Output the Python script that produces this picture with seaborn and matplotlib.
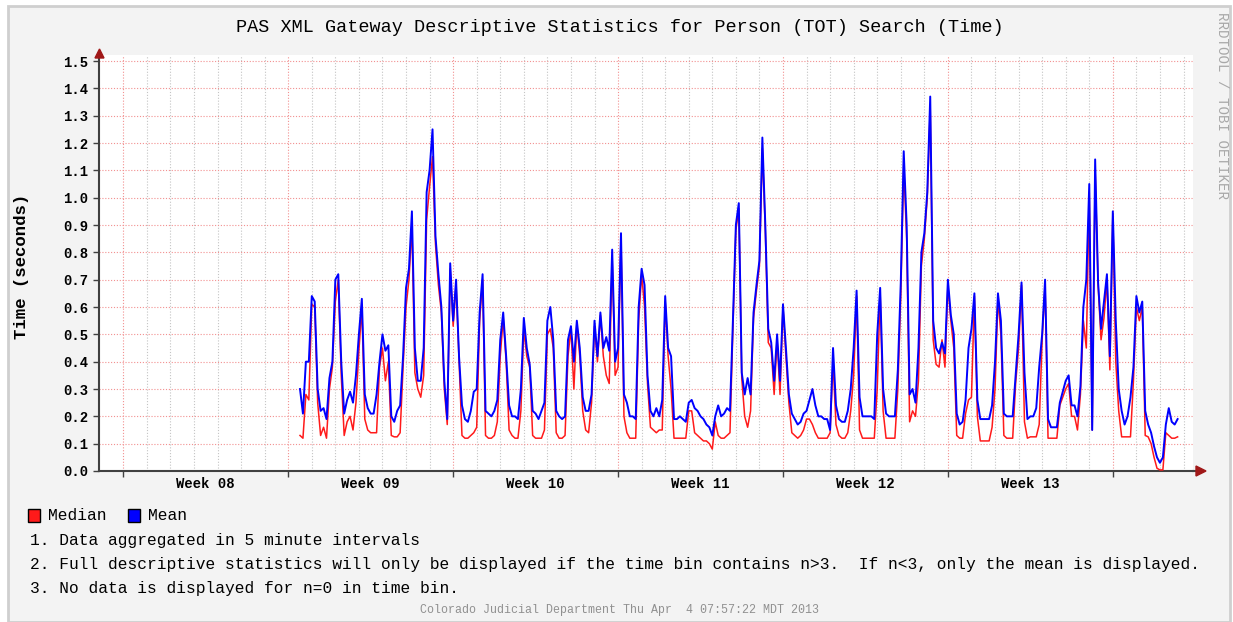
import numpy as np
import pandas as pd
import matplotlib
matplotlib.use('Agg')
import matplotlib.pyplot as plt
from matplotlib.patches import Rectangle, Polygon
from matplotlib.lines import Line2D
import seaborn as sns

# 5 minute data, resampled every 3 hours; one row per "day" chunk (8 samples)
mean_sec = [
    0.30, 0.21, 0.40, 0.40, 0.64, 0.62, 0.30, 0.22,
    0.23, 0.19, 0.34, 0.40, 0.70, 0.72, 0.40, 0.21,
    0.26, 0.29, 0.25, 0.35, 0.50, 0.63, 0.28, 0.23,
    0.21, 0.21, 0.28, 0.40, 0.50, 0.44, 0.46, 0.20,
    0.18, 0.22, 0.24, 0.42, 0.67, 0.74, 0.95, 0.45,
    0.33, 0.33, 0.45, 1.02, 1.10, 1.25, 0.86, 0.72,
    0.60, 0.33, 0.19, 0.76, 0.55, 0.70, 0.42, 0.24,
    0.19, 0.18, 0.22, 0.29, 0.30, 0.58, 0.72, 0.22,
    0.21, 0.20, 0.22, 0.26, 0.48, 0.58, 0.42, 0.24,
    0.20, 0.20, 0.19, 0.30, 0.56, 0.45, 0.39, 0.22,
    0.21, 0.19, 0.22, 0.25, 0.55, 0.60, 0.48, 0.22,
    0.20, 0.19, 0.20, 0.48, 0.53, 0.40, 0.55, 0.45,
    0.27, 0.22, 0.22, 0.28, 0.55, 0.42, 0.58, 0.45,
    0.49, 0.44, 0.81, 0.40, 0.45, 0.87, 0.28, 0.25,
    0.20, 0.20, 0.19, 0.60, 0.74, 0.68, 0.35, 0.22,
    0.20, 0.23, 0.20, 0.26, 0.64, 0.45, 0.42, 0.19,
    0.19, 0.20, 0.19, 0.18, 0.25, 0.26, 0.23, 0.22,
    0.20, 0.19, 0.17, 0.16, 0.13, 0.20, 0.24, 0.20,
    0.21, 0.23, 0.22, 0.55, 0.90, 0.98, 0.36, 0.28,
    0.34, 0.28, 0.58, 0.68, 0.77, 1.22, 0.90, 0.52,
    0.47, 0.33, 0.50, 0.33, 0.61, 0.45, 0.28, 0.21,
    0.19, 0.17, 0.18, 0.21, 0.22, 0.26, 0.30, 0.24,
    0.20, 0.20, 0.19, 0.19, 0.15, 0.45, 0.24, 0.19,
    0.18, 0.18, 0.22, 0.30, 0.45, 0.66, 0.27, 0.20,
    0.20, 0.20, 0.20, 0.19, 0.50, 0.67, 0.30, 0.21,
    0.20, 0.20, 0.20, 0.37, 0.69, 1.17, 0.90, 0.28,
    0.30, 0.25, 0.45, 0.80, 0.87, 1.02, 1.37, 0.55,
    0.45, 0.43, 0.47, 0.43, 0.70, 0.57, 0.50, 0.21,
    0.17, 0.18, 0.26, 0.45, 0.52, 0.65, 0.26, 0.19,
    0.19, 0.19, 0.19, 0.24, 0.40, 0.65, 0.55, 0.21,
    0.20, 0.20, 0.20, 0.35, 0.50, 0.69, 0.36, 0.19,
    0.20, 0.20, 0.23, 0.38, 0.50, 0.70, 0.19, 0.16,
    0.16, 0.16, 0.25, 0.29, 0.33, 0.35, 0.24, 0.24,
    0.20, 0.31, 0.60, 0.70, 1.05, 0.15, 1.14, 0.69,
    0.52, 0.62, 0.72, 0.42, 0.95, 0.55, 0.30, 0.22,
    0.17, 0.20, 0.27, 0.38, 0.64, 0.58, 0.62, 0.22,
    0.17, 0.14, 0.09, 0.05, 0.03, 0.05, 0.17, 0.23,
    0.18, 0.17, 0.19,
]
median_sec = [
    0.13, 0.12, 0.28, 0.26, 0.61, 0.60, 0.25, 0.13,
    0.16, 0.12, 0.30, 0.38, 0.62, 0.70, 0.35, 0.13,
    0.18, 0.20, 0.15, 0.25, 0.44, 0.60, 0.19, 0.15,
    0.14, 0.14, 0.14, 0.38, 0.45, 0.33, 0.40, 0.13,
    0.125, 0.125, 0.14, 0.38, 0.60, 0.70, 0.90, 0.36,
    0.30, 0.27, 0.35, 0.92, 1.04, 1.15, 0.83, 0.68,
    0.58, 0.30, 0.17, 0.74, 0.53, 0.68, 0.40, 0.13,
    0.12, 0.12, 0.13, 0.14, 0.16, 0.55, 0.70, 0.13,
    0.12, 0.12, 0.13, 0.18, 0.42, 0.56, 0.40, 0.15,
    0.13, 0.12, 0.12, 0.22, 0.52, 0.42, 0.38, 0.13,
    0.12, 0.12, 0.12, 0.15, 0.50, 0.52, 0.45, 0.14,
    0.12, 0.12, 0.13, 0.42, 0.52, 0.30, 0.54, 0.42,
    0.22, 0.15, 0.14, 0.25, 0.53, 0.40, 0.57, 0.42,
    0.35, 0.32, 0.78, 0.35, 0.38, 0.85, 0.20, 0.14,
    0.12, 0.12, 0.12, 0.55, 0.72, 0.60, 0.32, 0.16,
    0.15, 0.14, 0.15, 0.15, 0.62, 0.42, 0.30, 0.12,
    0.12, 0.12, 0.12, 0.12, 0.22, 0.22, 0.14, 0.13,
    0.12, 0.11, 0.11, 0.10, 0.08, 0.18, 0.13, 0.12,
    0.12, 0.13, 0.14, 0.52, 0.88, 0.96, 0.34, 0.20,
    0.16, 0.22, 0.56, 0.66, 0.75, 1.18, 0.88, 0.47,
    0.45, 0.28, 0.48, 0.28, 0.60, 0.42, 0.25, 0.14,
    0.13, 0.12, 0.13, 0.15, 0.19, 0.19, 0.17, 0.14,
    0.12, 0.12, 0.12, 0.12, 0.14, 0.40, 0.17, 0.13,
    0.12, 0.12, 0.14, 0.22, 0.35, 0.64, 0.15, 0.12,
    0.12, 0.12, 0.12, 0.12, 0.30, 0.65, 0.22, 0.12,
    0.12, 0.12, 0.12, 0.30, 0.64, 1.12, 0.85, 0.18,
    0.22, 0.20, 0.33, 0.75, 0.85, 1.00, 1.33, 0.48,
    0.39, 0.38, 0.48, 0.38, 0.68, 0.55, 0.45, 0.13,
    0.12, 0.12, 0.21, 0.26, 0.27, 0.64, 0.20, 0.11,
    0.11, 0.11, 0.11, 0.16, 0.30, 0.63, 0.50, 0.13,
    0.12, 0.12, 0.12, 0.32, 0.45, 0.68, 0.18, 0.12,
    0.125, 0.125, 0.125, 0.17, 0.48, 0.68, 0.12, 0.12,
    0.12, 0.12, 0.24, 0.27, 0.30, 0.32, 0.20, 0.20,
    0.15, 0.28, 0.55, 0.45, 1.02, 0.15, 1.10, 0.68,
    0.48, 0.56, 0.70, 0.37, 0.94, 0.40, 0.22, 0.125,
    0.125, 0.125, 0.125, 0.33, 0.60, 0.55, 0.60, 0.13,
    0.125, 0.10, 0.05, 0.01, 0.004, 0.004, 0.14, 0.13,
    0.12, 0.12, 0.125,
]
start_day = 7.5      # days since start of week 08
step_day = 0.125     # 3 hour bins
week_labels = ['Week 08', 'Week 09', 'Week 10', 'Week 11', 'Week 12', 'Week 13']
notes = [
    '1. Data aggregated in 5 minute intervals',
    '2. Full descriptive statistics will only be displayed if the time bin contains n>3.  If n<3, only the mean is displayed.',
    '3. No data is displayed for n=0 in time bin.',
]

days = start_day + step_day * np.arange(len(mean_sec))
df = pd.concat([
    pd.DataFrame({'day': days, 'seconds': median_sec, 'stat': 'Median'}),
    pd.DataFrame({'day': days, 'seconds': mean_sec, 'stat': 'Mean'}),
])

W, H = 1233, 622
MONO = 'Liberation Mono'
plt.rcParams['font.family'] = [MONO, 'DejaVu Sans Mono']

fig = plt.figure(figsize=(W / 100, H / 100), dpi=100, facecolor='white')
fig.add_artist(Rectangle((8 / W, 0), (1230 - 8) / W, 1 - 6 / H, transform=fig.transFigure,
                         facecolor='#F3F3F3', edgecolor='#CFCFCF', lw=2, zorder=0))

ax = fig.add_axes([99 / W, 1 - 471 / H, (1193 - 99) / W, (471 - 55) / H])
ax.set_facecolor('white')

day_px = 23.56
x0 = (99 - 123.3) / day_px
x1 = (1193 - 123.3) / day_px
ax.set_xlim(x0, x1)
ax.set_ylim(0, 1.522)

# grid
for v in np.arange(1, 16) / 10:
    ax.axhline(v, color='#F29090', ls=(0, (1, 1.6)), lw=0.8, zorder=0.5)
for d in range(0, 46):
    if d % 7 == 0:
        ax.axvline(d, color='#F29090', ls=(0, (1, 1.6)), lw=0.8, zorder=0.5)
    else:
        ax.axvline(d, color='#C4C4C4', ls=(0, (1, 1.6)), lw=0.8, zorder=0.4)

sns.lineplot(data=df, x='day', y='seconds', hue='stat', hue_order=['Median', 'Mean'],
             palette={'Median': '#FF1A1A', 'Mean': '#0000FF'}, estimator=None,
             legend=False, size='stat', sizes={'Median': 1.1, 'Mean': 1.4}, ax=ax, zorder=3)

for s in ['top', 'right']:
    ax.spines[s].set_visible(False)
for s in ['left', 'bottom']:
    ax.spines[s].set_color('#404040')
    ax.spines[s].set_linewidth(1.5)

ax.set_yticks(np.arange(0, 16) / 10)
ax.set_yticklabels(['%.1f' % (v / 10) for v in range(16)])
ax.set_xticks(range(0, 46, 7))
ax.set_xticklabels([])
ax.tick_params(axis='y', length=4, width=1, color='#404040', pad=4, labelsize=10)
ax.tick_params(axis='x', length=4, width=1, color='#404040')
for lab in ax.get_yticklabels():
    lab.set_fontweight('bold')
ax.set_xlabel('')
ax.set_ylabel('')

for k, lab in enumerate(week_labels):
    ax.text(3.5 + 7 * k, -13 / 416, lab, transform=ax.get_xaxis_transform(),
            ha='center', va='center', fontsize=10, fontweight='bold')

# axis arrows
fig.add_artist(Polygon([(99.5 / W, 1 - 49 / H), (95 / W, 1 - 58 / H), (104 / W, 1 - 58 / H)],
                       closed=True, transform=fig.transFigure, color='#A01818', zorder=5))
fig.add_artist(Line2D([1193 / W, 1197 / W], [1 - 471 / H, 1 - 471 / H],
                      transform=fig.transFigure, color='#404040', lw=1.5))
fig.add_artist(Polygon([(1206 / W, 1 - 471 / H), (1196 / W, 1 - 466 / H), (1196 / W, 1 - 476 / H)],
                       closed=True, transform=fig.transFigure, color='#A01818', zorder=5))

fig.text(620 / W, 1 - 27 / H, 'PAS XML Gateway Descriptive Statistics for Person (TOT) Search (Time)',
         ha='center', va='center', fontsize=13.3)
fig.text(22 / W, 1 - 266 / H, 'Time (seconds)', rotation=90, ha='center', va='center',
         fontsize=12.5, fontweight='bold')
fig.text(1222 / W, 1 - 12 / H, 'RRDTOOL / TOBI OETIKER', rotation=270, ha='center', va='top',
         fontsize=10.2, color='#A8A8A8')

# legend
for xs, lab, col in [(28, 'Median', '#FF1A1A'), (128, 'Mean', '#0000FF')]:
    fig.add_artist(Rectangle((xs / W, 1 - 522 / H), 12 / W, 13 / H, transform=fig.transFigure,
                             facecolor=col, edgecolor='black', lw=1))
    fig.text((xs + 20) / W, 1 - 516 / H, lab, ha='left', va='center', fontsize=11.7)

for yy, line in zip([540, 564, 588], notes):
    fig.text(30 / W, 1 - yy / H, line, ha='left', va='center', fontsize=11.7)

fig.text(620 / W, 1 - 610 / H, 'Colorado Judicial Department Thu Apr  4 07:57:22 MDT 2013',
         ha='center', va='center', fontsize=8.4, color='#909090')

fig.savefig('out.png', dpi=100, facecolor=fig.get_facecolor())
